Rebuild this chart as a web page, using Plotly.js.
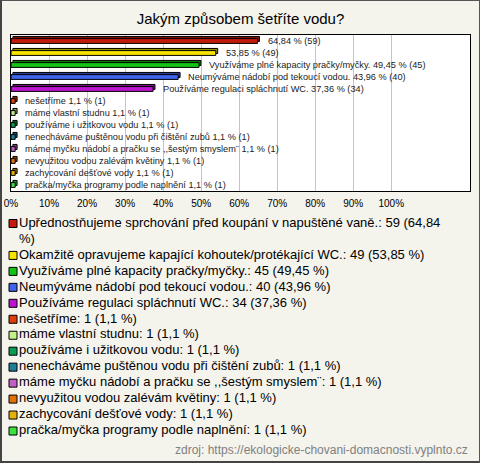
<!DOCTYPE html>
<html>
<head>
<meta charset="utf-8">
<script src="https://cdn.plot.ly/plotly-3.0.1.min.js"></script>
<style>
  html, body { margin: 0; padding: 0; background: #f4f3ec; }
  #wrap { position: relative; width: 480px; height: 463px; }
  #chart { width: 480px; height: 463px; }
  #frame { position: absolute; left: 0; top: 0; width: 480px; height: 463px; box-sizing: border-box;
           border-top: 1px solid #555; border-right: 1px solid #555; border-left: 2px solid #444; border-bottom: 2px solid #444;
           pointer-events: none; }
  #measure { position: absolute; visibility: hidden; white-space: pre; font: 13px "Liberation Sans"; left: -9999px; top: 0; }
</style>
</head>
<body>
<div id="wrap"><div id="chart"></div><div id="frame"></div></div>
<span id="measure"></span>
<script>
// ---- data ----
const categories = [
  "Upřednostňujeme sprchování před koupání v napuštěné vaně.",
  "Okamžitě opravujeme kapající kohoutek/protékající WC.",
  "Využíváme plné kapacity pračky/myčky.",
  "Neumýváme nádobí pod tekoucí vodou.",
  "Používáme regulaci spláchnutí WC.",
  "nešetříme",
  "máme vlastní studnu",
  "používáme i užitkovou vodu",
  "nenecháváme puštěnou vodu při čištění zubů",
  "máme myčku nádobí a pračku se ,,šestým smyslem¨",
  "nevyužitou vodou zalévám květiny",
  "zachycování dešťové vody",
  "pračka/myčka programy podle naplnění"
];
const counts = [59, 49, 45, 40, 34, 1, 1, 1, 1, 1, 1, 1, 1];
const percents = [64.84, 53.85, 49.45, 43.96, 37.36, 1.1, 1.1, 1.1, 1.1, 1.1, 1.1, 1.1, 1.1];
const nameInBarLabel = [false, false, true, true, true, true, true, true, true, true, true, true, true];
const colors = ["#c41a0c", "#f7e400", "#14c414", "#3f62ea", "#bd14cf", "#dc3e0a", "#c6f08a",
                "#0f9a52", "#1f7f98", "#c060c4", "#e0700a", "#e6b00a", "#3ee03e"];
const tickValues = [0, 10, 20, 30, 40, 50, 60, 70, 80, 90, 100];
const tickLabels = ["0%", "10%", "20%", "30%", "40%", "50%", "60%", "70%", "80%", "90%", "100%"];
const chartTitle = "Jakým způsobem šetříte vodu?";
const sourceText = "zdroj: https://ekologicke-chovani-domacnosti.vyplnto.cz";

// ---- helpers ----
const fmt = v => v.toFixed(2).replace(/0$/, "").replace(".", ",");
function darken(hex, f) {
  const n = parseInt(hex.slice(1), 16);
  const r = Math.round(((n >> 16) & 255) * f), g = Math.round(((n >> 8) & 255) * f), b = Math.round((n & 255) * f);
  return "rgb(" + r + "," + g + "," + b + ")";
}
const barLabels = categories.map((c, i) => (nameInBarLabel[i] ? c + " " : "") + fmt(percents[i]) + " % (" + counts[i] + ")");
const legendTexts = categories.map((c, i) => c + ": " + counts[i] + " (" + fmt(percents[i]) + " %)");

// wrap legend lines by measured width
const meas = document.getElementById("measure");
const textW = t => { meas.textContent = t; return meas.getBoundingClientRect().width; };
const maxW = 440;
const legendLines = [], legendItemLine = [];
legendTexts.forEach(t => {
  legendItemLine.push(legendLines.length);
  const words = t.split(" ");
  let line = "";
  words.forEach(w => {
    const test = line ? line + " " + w : w;
    if (textW(test) > maxW && line) { legendLines.push(line); line = w; }
    else line = test;
  });
  legendLines.push(line);
});
const nLines = legendLines.length;

// ---- traces ----
const shadow = {
  type: "bar", orientation: "h", y: categories, x: percents, base: 0.5,
  width: 0.42, offset: -0.38,
  marker: { color: colors.map(c => darken(c, 0.62)), line: { color: "#000", width: 1 } },
  showlegend: false, hoverinfo: "skip", xaxis: "x", yaxis: "y"
};
const bars = {
  type: "bar", orientation: "h", y: categories, x: percents,
  width: 0.4, offset: -0.2,
  marker: { color: colors, line: { color: "#000", width: 1 } },
  showlegend: false, hoverinfo: "skip", xaxis: "x", yaxis: "y"
};
const legendMarks = {
  type: "scatter", mode: "markers", xaxis: "x2", yaxis: "y2",
  x: categories.map(() => 2), y: legendItemLine,
  marker: { symbol: "square", size: 8, color: colors, line: { color: "#000", width: 1 } },
  cliponaxis: false, showlegend: false, hoverinfo: "skip"
};
const legendText = {
  type: "scatter", mode: "text", xaxis: "x2", yaxis: "y2",
  x: legendLines.map(() => 8), y: legendLines.map((_, i) => i),
  text: legendLines, textposition: "middle right",
  textfont: { family: '"Liberation Sans", Arial, sans-serif', size: 13, color: "#000" },
  cliponaxis: false, showlegend: false, hoverinfo: "skip"
};

const annotations = categories.map((c, i) => ({
  xref: "x", yref: "y", x: percents[i], y: c, xanchor: "left", yanchor: "middle",
  xshift: 8, text: barLabels[i], showarrow: false,
  font: { family: '"Liberation Sans", Arial, sans-serif', size: 9.2, color: "#222" }
}));
annotations.push({
  xref: "paper", yref: "paper", x: 1, y: -0.027, xanchor: "right", yanchor: "middle",
  text: sourceText, showarrow: false,
  font: { family: '"Liberation Sans", Arial, sans-serif', size: 12, color: "#808080" }
});

const layout = {
  width: 480, height: 463,
  margin: { l: 11, r: 10, t: 35, b: 24, pad: 0 },
  paper_bgcolor: "#f4f3ec", plot_bgcolor: "rgba(0,0,0,0)",
  barmode: "overlay",
  showlegend: false,
  font: { family: '"Liberation Sans", Arial, sans-serif', color: "#000" },
  title: { text: chartTitle, x: 0.5, xref: "paper", xanchor: "center", y: 1 - 19 / 463, yref: "container", yanchor: "middle",
           font: { size: 15, color: "#000" } },
  xaxis: {
    domain: [0, 1], anchor: "y", range: [0, 120.7], tickmode: "array", tickvals: tickValues, ticktext: tickLabels,
    showgrid: true, gridcolor: "#c4c4c4", gridwidth: 1, zeroline: false,
    showline: true, mirror: true, linecolor: "#000", linewidth: 1,
    ticks: "outside", ticklen: 3, tickcolor: "rgba(0,0,0,0)",
    tickfont: { size: 10, color: "#000" }
  },
  yaxis: {
    domain: [0.6139, 1], anchor: "x", type: "category", categoryarray: categories,
    range: [12.5, -0.5], showticklabels: false, showgrid: false, zeroline: false,
    showline: true, mirror: true, linecolor: "#000", linewidth: 1, ticks: ""
  },
  xaxis2: { domain: [0, 1], anchor: "y2", range: [0, 459], visible: false },
  yaxis2: { domain: [0, 0.5532], anchor: "x2", range: [nLines - 0.5, -0.5], visible: false },
  shapes: [{ type: "rect", xref: "x", yref: "y", x0: 0, x1: 120.7, y0: -0.5, y1: 12.5,
             fillcolor: "#fff", line: { width: 0 }, layer: "below" }],
  annotations: annotations
};

Plotly.newPlot("chart", [shadow, bars, legendMarks, legendText], layout, { staticPlot: true, displayModeBar: false });
</script>
</body>
</html>
